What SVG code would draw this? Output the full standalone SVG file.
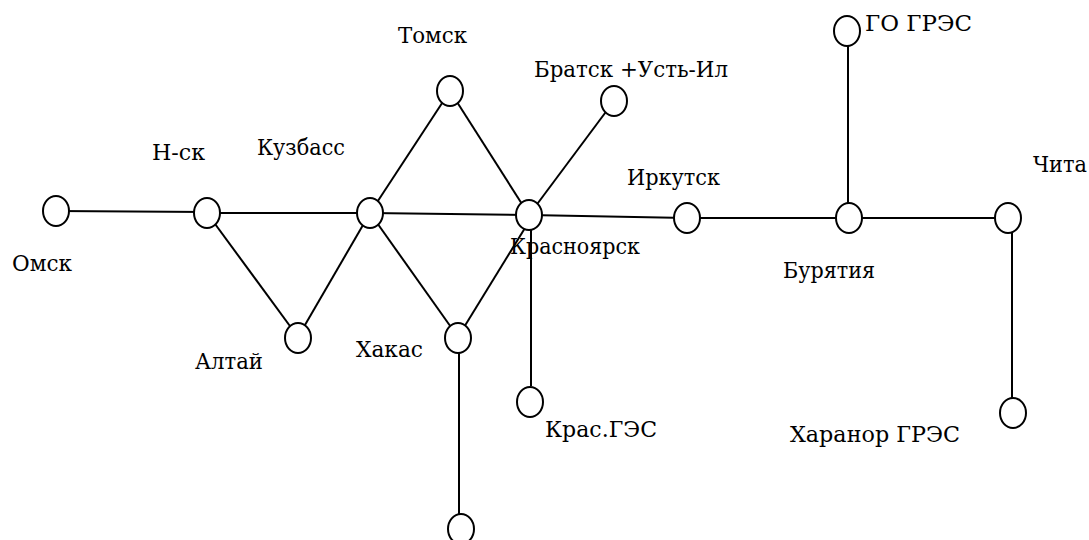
<svg xmlns="http://www.w3.org/2000/svg" width="1089" height="540" viewBox="0 0 1089 540">
<style>
.n{fill:#fff;stroke:#000;stroke-width:2}
.e line{stroke:#000;stroke-width:2}
.t text{font-family:'DejaVu Serif','Liberation Serif',serif;font-size:22px;fill:#000}
</style>
<rect width="1089" height="540" fill="#fff"/>
<g class="e" id="connectors">
<line x1="56" y1="211" x2="207" y2="212"/>
<line x1="207" y1="213" x2="370" y2="213"/>
<line x1="370" y1="213" x2="529" y2="215"/>
<line x1="529" y1="215" x2="687" y2="218"/>
<line x1="687" y1="218" x2="849" y2="218"/>
<line x1="849" y1="218" x2="1008" y2="218"/>
<line x1="848" y1="45" x2="848" y2="205"/>
<line x1="207" y1="213" x2="298" y2="337"/>
<line x1="298" y1="337" x2="370" y2="213"/>
<line x1="370" y1="213" x2="450" y2="91"/>
<line x1="450" y1="91" x2="529" y2="215"/>
<line x1="529" y1="215" x2="614" y2="101"/>
<line x1="370" y1="213" x2="458" y2="337"/>
<line x1="458" y1="337" x2="525" y2="228"/>
<line x1="459" y1="337" x2="459" y2="528"/>
<line x1="531" y1="230" x2="531" y2="386"/>
<line x1="1012" y1="233" x2="1012" y2="398"/>
</g>
<g class="t">
<g id="omsk"><ellipse class="n" cx="56" cy="211" rx="13" ry="15"/><text x="12" y="271" textLength="60" lengthAdjust="spacingAndGlyphs">Омск</text></g>
<g id="nsk"><ellipse class="n" cx="207" cy="213" rx="13" ry="15"/><text x="152" y="160" textLength="53" lengthAdjust="spacingAndGlyphs">Н-ск</text></g>
<g id="kuzbass"><ellipse class="n" cx="370" cy="213" rx="13" ry="15"/><text x="257" y="155" textLength="88" lengthAdjust="spacingAndGlyphs">Кузбасс</text></g>
<g id="tomsk"><ellipse class="n" cx="450" cy="91" rx="13" ry="15"/><text x="398" y="43" textLength="69" lengthAdjust="spacingAndGlyphs">Томск</text></g>
<g id="bratsk"><ellipse class="n" cx="614" cy="101" rx="13" ry="15"/><text x="534" y="77" textLength="194" lengthAdjust="spacingAndGlyphs">Братск +Усть-Ил</text></g>
<g id="krasnoyarsk"><ellipse class="n" cx="529" cy="215" rx="13" ry="15"/><text x="510" y="254" textLength="130" lengthAdjust="spacingAndGlyphs">Красноярск</text></g>
<g id="irkutsk"><ellipse class="n" cx="687" cy="218" rx="13" ry="15"/><text x="627" y="185" textLength="93" lengthAdjust="spacingAndGlyphs">Иркутск</text></g>
<g id="buryatia"><ellipse class="n" cx="849" cy="218" rx="13" ry="15"/><text x="783" y="278" textLength="92" lengthAdjust="spacingAndGlyphs">Бурятия</text></g>
<g id="go-gres"><ellipse class="n" cx="847" cy="31" rx="13" ry="15"/><text x="865" y="31" textLength="107" lengthAdjust="spacingAndGlyphs">ГО ГРЭС</text></g>
<g id="chita"><ellipse class="n" cx="1008" cy="218" rx="13" ry="15"/><text x="1033" y="172" textLength="54" lengthAdjust="spacingAndGlyphs">Чита</text></g>
<g id="altai"><ellipse class="n" cx="298" cy="338" rx="13" ry="15"/><text x="195" y="369" textLength="68" lengthAdjust="spacingAndGlyphs">Алтай</text></g>
<g id="khakas"><ellipse class="n" cx="458" cy="338" rx="13" ry="15"/><text x="356" y="357" textLength="67" lengthAdjust="spacingAndGlyphs">Хакас</text></g>
<g id="kras-ges"><ellipse class="n" cx="530" cy="402" rx="13" ry="15"/><text x="545" y="437" textLength="112" lengthAdjust="spacingAndGlyphs">Крас.ГЭС</text></g>
<g id="kharanor"><ellipse class="n" cx="1013" cy="413" rx="13" ry="15"/><text x="790" y="442" textLength="170" lengthAdjust="spacingAndGlyphs">Харанор ГРЭС</text></g>
<g id="bottom"><ellipse class="n" cx="461" cy="529" rx="13" ry="15"/></g>
</g>
</svg>
